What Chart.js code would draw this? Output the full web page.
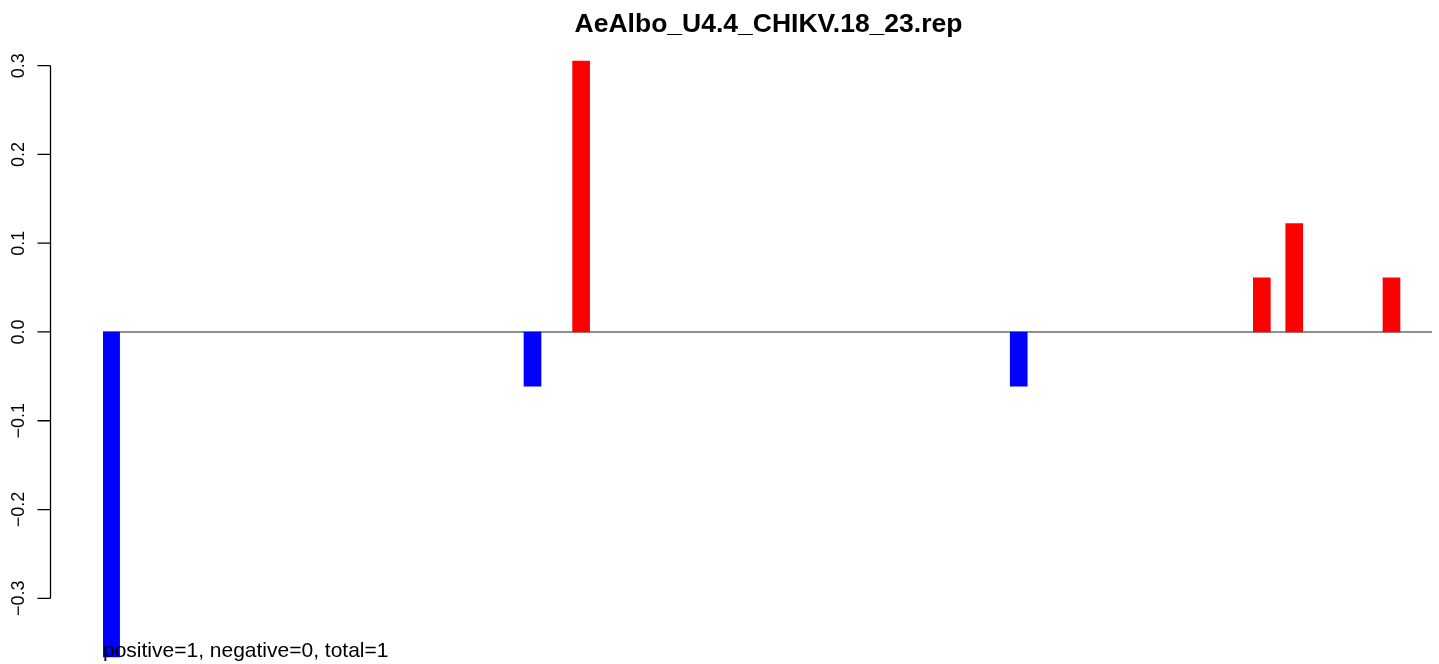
<!DOCTYPE html>
<html lang="en">
<head>
    <meta charset="UTF-8">
    <title>AeAlbo_U4.4_CHIKV.18_23.rep</title>
    <script src="https://cdn.jsdelivr.net/npm/chart.js"></script>
    <style>
        html, body { margin: 0; padding: 0; background: #fff; }
        #wrap { width: 1439px; height: 664px; }
    </style>
</head>
<body>
<div id="wrap"><canvas id="barChart" width="1439" height="664"></canvas></div>

<script>
    const TITLE = 'AeAlbo_U4.4_CHIKV.18_23.rep';
    const NOTE = 'positive=1, negative=0, total=1';

    // bar slot index (82 slots, 0-based) and value
    const positions = [0, 26, 29, 56, 71, 73, 79];
    const values = [-0.366, -0.061, 0.305, -0.061, 0.061, 0.122, 0.061];

    const yTicks = [-0.3, -0.2, -0.1, 0.0, 0.1, 0.2, 0.3];
    const yTickLabels = ['\u22120.3', '\u22120.2', '\u22120.1', '0.0', '0.1', '0.2', '0.3'];

    const FONT = '"Liberation Sans", Arial, sans-serif';

    const rPlot = {
        id: 'rPlot',
        beforeDatasetsDraw(chart) {
            const { ctx, chartArea, scales } = chart;
            const y0 = scales.y.getPixelForValue(0);
            ctx.save();
            ctx.strokeStyle = '#6a6a6a';
            ctx.lineWidth = 1.4;
            ctx.beginPath();
            ctx.moveTo(chartArea.left, y0);
            ctx.lineTo(chartArea.right, y0);
            ctx.stroke();
            ctx.restore();
        },
        afterDraw(chart) {
            const { ctx, chartArea, scales } = chart;
            const ys = scales.y;
            const axisX = 50.5;
            ctx.save();
            ctx.strokeStyle = '#000';
            ctx.lineWidth = 1.3;
            ctx.beginPath();
            ctx.moveTo(axisX, ys.getPixelForValue(yTicks[0]));
            ctx.lineTo(axisX, ys.getPixelForValue(yTicks[yTicks.length - 1]));
            yTicks.forEach(v => {
                const py = ys.getPixelForValue(v);
                ctx.moveTo(axisX, py);
                ctx.lineTo(axisX - 13, py);
            });
            ctx.stroke();

            ctx.fillStyle = '#000';
            ctx.font = '18px ' + FONT;
            ctx.textAlign = 'center';
            ctx.textBaseline = 'alphabetic';
            yTicks.forEach((v, i) => {
                const py = ys.getPixelForValue(v);
                ctx.save();
                ctx.translate(24, py);
                ctx.rotate(-Math.PI / 2);
                ctx.fillText(yTickLabels[i], 0, 0);
                ctx.restore();
            });

            ctx.font = 'bold 26.5px ' + FONT;
            ctx.fillText(TITLE, (chartArea.left + chartArea.right) / 2 + 1, 32);

            ctx.font = '21px ' + FONT;
            ctx.textAlign = 'left';
            ctx.fillText(NOTE, chartArea.left, 657);
            ctx.restore();
        }
    };

    new Chart(document.getElementById('barChart'), {
        type: 'bar',
        data: {
            datasets: [{
                data: positions.map((p, i) => ({ x: p, y: values[i] })),
                backgroundColor: values.map(v => v >= 0 ? '#ff0000' : '#0000ff'),
                borderWidth: 0,
                barThickness: 17
            }]
        },
        options: {
            responsive: false,
            animation: false,
            layout: { padding: { left: 103, right: 7, top: 39, bottom: 0 } },
            plugins: { legend: { display: false }, tooltip: { enabled: false }, title: { display: false } },
            scales: {
                x: { type: 'linear', min: -0.5, max: 81.5, offset: false, display: false },
                y: { min: -0.374, max: 0.33, display: false }
            }
        },
        plugins: [rPlot]
    });
</script>
</body>
</html>
